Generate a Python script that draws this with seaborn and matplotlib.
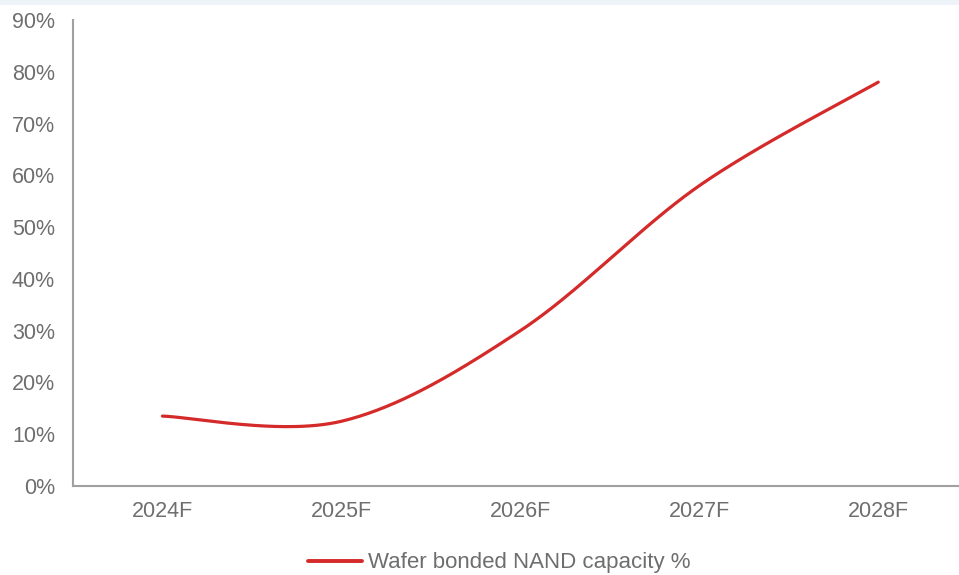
import numpy as np
import pandas as pd
import matplotlib
matplotlib.use("Agg")
import matplotlib.pyplot as plt
from matplotlib.patches import Rectangle
import seaborn as sns

years = ["2024F", "2025F", "2026F", "2027F", "2028F"]
capacity_pct = [13.5, 12.5, 30.0, 58.0, 78.0]
y_ticks = [0, 10, 20, 30, 40, 50, 60, 70, 80, 90]
series_name = "Wafer bonded NAND capacity %"

LINE_RED = "#D42A2A"
TEXT_GREY = "#6E6E6E"
AXIS_GREY = "#A0A0A0"


def smooth_curve(xs, ys, steps=60):
    """Catmull-Rom style cubic Bezier through every point (spreadsheet 'smoothed line')."""
    p = np.column_stack([xs, ys]).astype(float)
    ext = np.vstack([p[0], p, p[-1]])
    out = []
    for i in range(len(p) - 1):
        p0, p1, p2, p3 = ext[i], ext[i + 1], ext[i + 2], ext[i + 3]
        c1 = p1 + (p2 - p0) / 6.0
        c2 = p2 - (p3 - p1) / 6.0
        t = np.linspace(0, 1, steps, endpoint=(i == len(p) - 2))[:, None]
        seg = ((1 - t) ** 3) * p1 + 3 * ((1 - t) ** 2) * t * c1 + 3 * (1 - t) * t ** 2 * c2 + t ** 3 * p2
        out.append(seg)
    return np.vstack(out)


sns.set_theme(style="white")
plt.rcParams["font.family"] = ["Liberation Sans", "DejaVu Sans"]

fig = plt.figure(figsize=(9.59, 5.75), dpi=100)
fig.patch.set_facecolor("white")
fig.add_artist(Rectangle((0, 0.991), 1, 0.009, transform=fig.transFigure,
                         facecolor="#EEF3FA", edgecolor="none", zorder=0))

ax = fig.add_axes([0.0761, 0.1548, 0.933, 0.8104])

pts = smooth_curve(np.arange(len(years)), capacity_pct)
curve = pd.DataFrame({"x": pts[:, 0], "y": pts[:, 1], "series": series_name})
sns.lineplot(data=curve, x="x", y="y", hue="series", palette=[LINE_RED],
             linewidth=2.3, ax=ax, sort=False, estimator=None,
             solid_capstyle="round")

ax.set_xlim(-0.5, len(years) - 0.5)
ax.set_ylim(0, 90)
ax.set_xticks(range(len(years)))
ax.set_xticklabels(years)
ax.set_yticks(y_ticks)
ax.set_yticklabels([f"{v}%" for v in y_ticks])
ax.set_xlabel("")
ax.set_ylabel("")

ax.tick_params(axis="both", length=0, labelsize=15.5, colors=TEXT_GREY)
ax.tick_params(axis="y", pad=13)
ax.tick_params(axis="x", pad=11)
for side in ("top", "right"):
    ax.spines[side].set_visible(False)
for side in ("left", "bottom"):
    ax.spines[side].set_color(AXIS_GREY)
    ax.spines[side].set_linewidth(1.5)
ax.grid(False)

ax.get_legend().remove()
handle = plt.Line2D([], [], color=LINE_RED, linewidth=2.8)
fig.legend([handle], [series_name], loc="center", bbox_to_anchor=(0.521, 0.021),
           frameon=False, fontsize=16, labelcolor=TEXT_GREY,
           handlelength=2.4, handletextpad=0.3)

fig.savefig("out.png", dpi=100, facecolor="white")
